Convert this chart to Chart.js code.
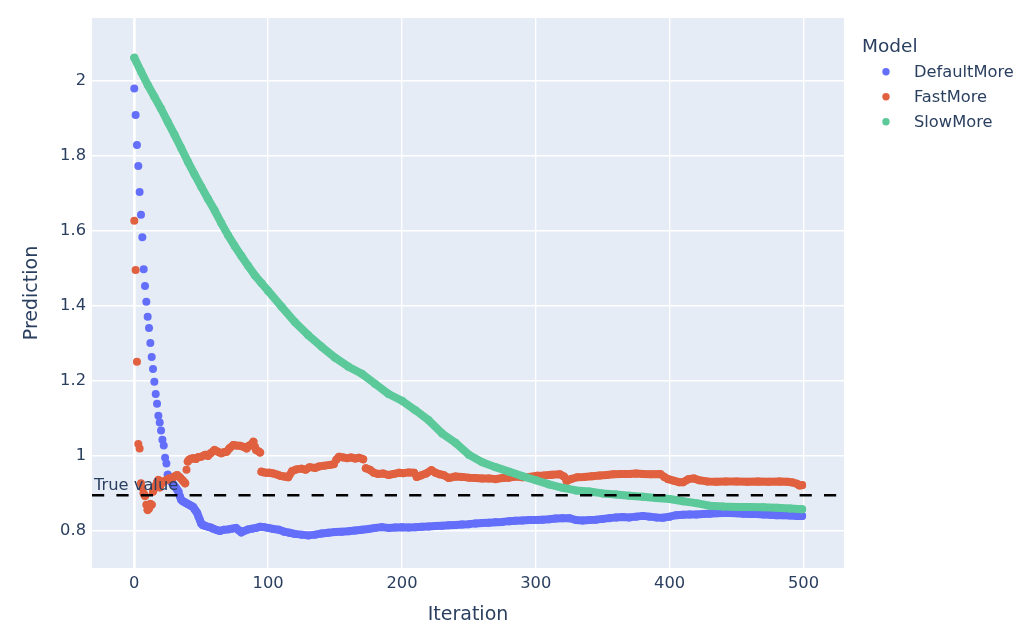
<!DOCTYPE html>
<html>
<head>
<meta charset="utf-8">
<script src="https://cdn.jsdelivr.net/npm/chart.js@4.4.1/dist/chart.umd.min.js"></script>
<style>
  html, body { margin: 0; padding: 0; background: #ffffff; }
</style>
</head>
<body>
<canvas id="chart" width="1024" height="638"></canvas>
<script>
// values
const seriesNames = ["DefaultMore", "FastMore", "SlowMore"];
const seriesColors = ["#636efa", "#e0603f", "#5bc99a"];

const defaultIter = [0,1,2,3,4,5,6,7,8,9,10,11,12,13,14,15,16,17,18,19,20,21,22,23,24,25,26,27,28,29,30,31,32,33,34,35,36,37,38,39,40,41,42,43,44,45,46,47,48,49,50,51,52,53,
  55,57,59,62,64,67,70,73,76,78,80,82,85,88,91,94,97,
  100,104,108,112,116,
  120,125,130,135,140,145,150,155,160,165,170,175,180,185,190,195,200,205,210,215,220,225,230,235,240,245,250,255,260,265,270,275,280,285,290,295,300,305,310,315,320,325,330,335,340,345,350,355,360,365,370,375,380,385,390,395,400,405,410,415,420,425,430,435,440,445,450,455,460,465,470,475,480,485,490,495,499];
const defaultVal = [1.98,1.909,1.829,1.773,1.704,1.643,1.583,1.498,1.453,1.411,1.371,1.341,1.301,1.264,1.232,1.198,1.165,1.139,1.107,1.089,1.068,1.043,1.028,0.995,0.98,0.95,0.94,0.935,0.929,0.925,0.92,0.916,0.91,0.905,0.893,0.883,0.88,0.878,0.876,0.874,0.872,0.87,0.868,0.866,0.864,0.858,0.853,0.848,0.838,0.829,0.82,0.816,0.815,0.813,
  0.811,0.809,0.806,0.802,0.8,0.803,0.804,0.806,0.808,0.802,0.796,0.8,0.804,0.806,0.808,0.811,0.81,
  0.808,0.805,0.803,0.798,0.795,
  0.792,0.79,0.788,0.79,0.793,0.795,0.797,0.798,0.799,0.801,0.803,0.805,0.808,0.81,0.808,0.809,0.81,0.809,0.81,0.811,0.812,0.813,0.814,0.815,0.816,0.817,0.818,0.82,0.821,0.822,0.823,0.824,0.826,0.827,0.828,0.829,0.829,0.83,0.831,0.833,0.834,0.834,0.829,0.828,0.829,0.83,0.832,0.834,0.836,0.837,0.836,0.838,0.84,0.838,0.836,0.835,0.838,0.842,0.843,0.844,0.844,0.845,0.846,0.847,0.848,0.848,0.847,0.846,0.845,0.845,0.844,0.843,0.842,0.842,0.841,0.84,0.84];

const fastIter = [0,1,2,3,4,5,6,7,8,9,10,11,12,13,14,15,16,17,18,19,20,21,22,23,24,25,26,
  28,30,32,34,36,37,38,39,40,41,42,44,46,48,50,53,55,57,60,62,65,67,69,71,74,76,79,82,84,86,88,89,90,91,93,94,
  95,97,99,101,104,107,109,112,115,118,121,125,128,131,135,138,142,146,149,151,153,156,159,162,165,168,171,
  173,176,179,182,186,190,194,198,201,205,209,211,214,218,222,225,228,231,235,240,245,250,255,260,265,270,275,280,286,290,295,
  301,306,312,318,321,323,326,331,336,342,348,353,358,364,370,375,380,386,393,396,399,403,407,410,414,418,422,428,435,442,450,458,466,474,482,488,492,495,497,499];
const fastVal = [1.627,1.496,1.251,1.032,1.02,0.927,0.915,0.9,0.893,0.87,0.856,0.86,0.872,0.87,0.905,0.915,0.92,0.93,0.936,0.916,0.925,0.93,0.931,0.934,0.936,0.938,0.94,
  0.94,0.945,0.949,0.943,0.935,0.931,0.927,0.963,0.985,0.99,0.992,0.994,0.992,0.997,0.998,1.003,1.0,1.007,1.016,1.012,1.007,1.01,1.011,1.02,1.029,1.028,1.027,1.024,1.02,1.028,1.032,1.038,1.025,1.016,1.012,1.009,
  0.958,0.956,0.955,0.955,0.953,0.95,0.947,0.945,0.943,0.96,0.964,0.966,0.963,0.97,0.968,0.972,0.974,0.976,0.978,0.99,0.998,0.996,0.994,0.996,0.993,0.995,0.991,
  0.967,0.963,0.955,0.952,0.953,0.949,0.952,0.955,0.954,0.956,0.955,0.944,0.948,0.953,0.962,0.955,0.951,0.949,0.941,0.945,0.944,0.942,0.941,0.94,0.94,0.938,0.941,0.942,0.945,0.943,0.944,
  0.947,0.948,0.95,0.951,0.945,0.933,0.938,0.943,0.944,0.946,0.948,0.949,0.951,0.952,0.952,0.953,0.952,0.951,0.952,0.944,0.938,0.934,0.93,0.93,0.938,0.94,0.935,0.932,0.931,0.932,0.932,0.931,0.932,0.931,0.932,0.931,0.929,0.926,0.921,0.922];

const slowIter = [0,5,10,15,20,25,30,35,40,45,50,55,60,65,70,75,80,85,90,95,100,110,120,130,140,150,160,170,180,190,200,210,220,230,240,250,260,270,280,290,300,310,320,330,340,350,360,370,380,390,400,410,420,430,440,450,460,470,480,490,499];
const slowVal = [2.062,2.025,1.99,1.958,1.926,1.891,1.857,1.821,1.785,1.751,1.718,1.686,1.655,1.621,1.589,1.56,1.533,1.507,1.482,1.461,1.44,1.398,1.357,1.322,1.291,1.262,1.238,1.219,1.192,1.165,1.147,1.122,1.095,1.06,1.035,1.003,0.983,0.97,0.958,0.946,0.935,0.924,0.915,0.908,0.905,0.9,0.897,0.894,0.891,0.888,0.885,0.879,0.874,0.867,0.865,0.864,0.864,0.863,0.862,0.86,0.858];

const xTicks = [0, 100, 200, 300, 400, 500];
const yTicks = [0.8, 1, 1.2, 1.4, 1.6, 1.8, 2];
const trueValue = 0.895;

const textColor = "#2a3f5f";
const fontFamily = "'DejaVu Sans', Verdana, sans-serif";

function toPoints(xs, ys) {
  const n = Math.min(xs.length, ys.length);
  const pts = [];
  for (let i = 0; i < n; i++) pts.push({ x: xs[i], y: ys[i] });
  return pts;
}

// dense per-iteration jumps show as separate dots, otherwise the dots merge into a band
const gapColor = (c) =>
  Math.abs(c.p1.x - c.p0.x) < 3 && Math.abs(c.p1.y - c.p0.y) > 4 ? "rgba(0,0,0,0)" : undefined;

function makeSet(i, xs, ys, order) {
  return {
    label: seriesNames[i],
    data: toPoints(xs, ys),
    showLine: true,
    borderColor: seriesColors[i],
    backgroundColor: seriesColors[i],
    borderWidth: 8,
    borderCapStyle: "round",
    borderJoinStyle: "round",
    pointRadius: 4,
    pointBorderWidth: 0,
    pointHoverRadius: 4,
    segment: { borderColor: gapColor },
    order: order,
  };
}

const plotBg = {
  id: "plotBg",
  beforeDraw(chart) {
    const { ctx, chartArea: a } = chart;
    ctx.save();
    ctx.fillStyle = "#e5ecf6";
    ctx.fillRect(a.left, a.top, a.right - a.left, a.bottom - a.top);
    ctx.restore();
  },
};

const trueLine = {
  id: "trueLine",
  afterDatasetsDraw(chart) {
    const { ctx, chartArea: a, scales } = chart;
    const y = scales.y.getPixelForValue(trueValue);
    ctx.save();
    ctx.strokeStyle = "#000000";
    ctx.lineWidth = 2.7;
    ctx.setLineDash([12.2, 12.2]);
    ctx.beginPath();
    ctx.moveTo(a.left, y);
    ctx.lineTo(a.right, y);
    ctx.stroke();
    ctx.setLineDash([]);
    ctx.fillStyle = textColor;
    ctx.font = "16.3px " + fontFamily;
    ctx.textBaseline = "alphabetic";
    ctx.fillText("True value", a.left + 2, y - 5.5);
    ctx.restore();
  },
};

const sideLegend = {
  id: "sideLegend",
  afterDraw(chart) {
    const { ctx, chartArea: a } = chart;
    const x0 = a.right + 18;
    ctx.save();
    ctx.fillStyle = textColor;
    ctx.textBaseline = "alphabetic";
    ctx.font = "18.5px " + fontFamily;
    ctx.fillText("Model", x0, 51.7);
    ctx.font = "16.3px " + fontFamily;
    seriesNames.forEach((name, i) => {
      const cy = 71.7 + i * 25;
      ctx.fillStyle = seriesColors[i];
      ctx.beginPath();
      ctx.arc(x0 + 24, cy, 3.7, 0, Math.PI * 2);
      ctx.fill();
      ctx.fillStyle = textColor;
      ctx.fillText(name, x0 + 52, cy + 5.6);
    });
    ctx.restore();
  },
};

const ctx = document.getElementById("chart");

const myChart = new Chart(ctx, {
  type: "scatter",
  data: {
    datasets: [
      makeSet(0, defaultIter, defaultVal, 3),
      makeSet(1, fastIter, fastVal, 2),
      makeSet(2, slowIter, slowVal, 1),
    ],
  },
  options: {
    responsive: false,
    animation: false,
    events: [],
    layout: { padding: { top: 18, right: 180, left: 0, bottom: 0 } },
    plugins: {
      legend: { display: false },
      tooltip: { enabled: false },
    },
    scales: {
      x: {
        type: "linear",
        min: -31.6,
        max: 530.3,
        afterBuildTicks: (s) => { s.ticks = xTicks.map((v) => ({ value: v })); },
        afterFit: (s) => { s.height = 70; },
        grid: {
          color: "#ffffff",
          lineWidth: (c) => (c.tick && c.tick.value === 0 ? 2.7 : 1.4),
          drawTicks: false,
        },
        border: { display: false },
        ticks: {
          color: textColor,
          font: { family: fontFamily, size: 16.3 },
          padding: 6,
          maxRotation: 0,
          callback: (v) => String(v),
        },
        title: {
          display: true,
          text: "Iteration",
          color: textColor,
          font: { family: fontFamily, size: 19 },
          padding: { top: 0, bottom: 12 },
        },
      },
      y: {
        type: "linear",
        min: 0.701,
        max: 2.168,
        afterBuildTicks: (s) => { s.ticks = yTicks.map((v) => ({ value: v })); },
        afterFit: (s) => { s.width = 92; },
        grid: { color: "#ffffff", lineWidth: 1.4, drawTicks: false },
        border: { display: false },
        ticks: {
          color: textColor,
          font: { family: fontFamily, size: 16.3 },
          padding: 6,
          callback: (v) => String(+v.toFixed(2)),
        },
        title: {
          display: true,
          text: "Prediction",
          color: textColor,
          font: { family: fontFamily, size: 19 },
          padding: { top: 20.6, bottom: 0 },
        },
      },
    },
  },
  plugins: [plotBg, trueLine, sideLegend],
});
</script>
</body>
</html>
